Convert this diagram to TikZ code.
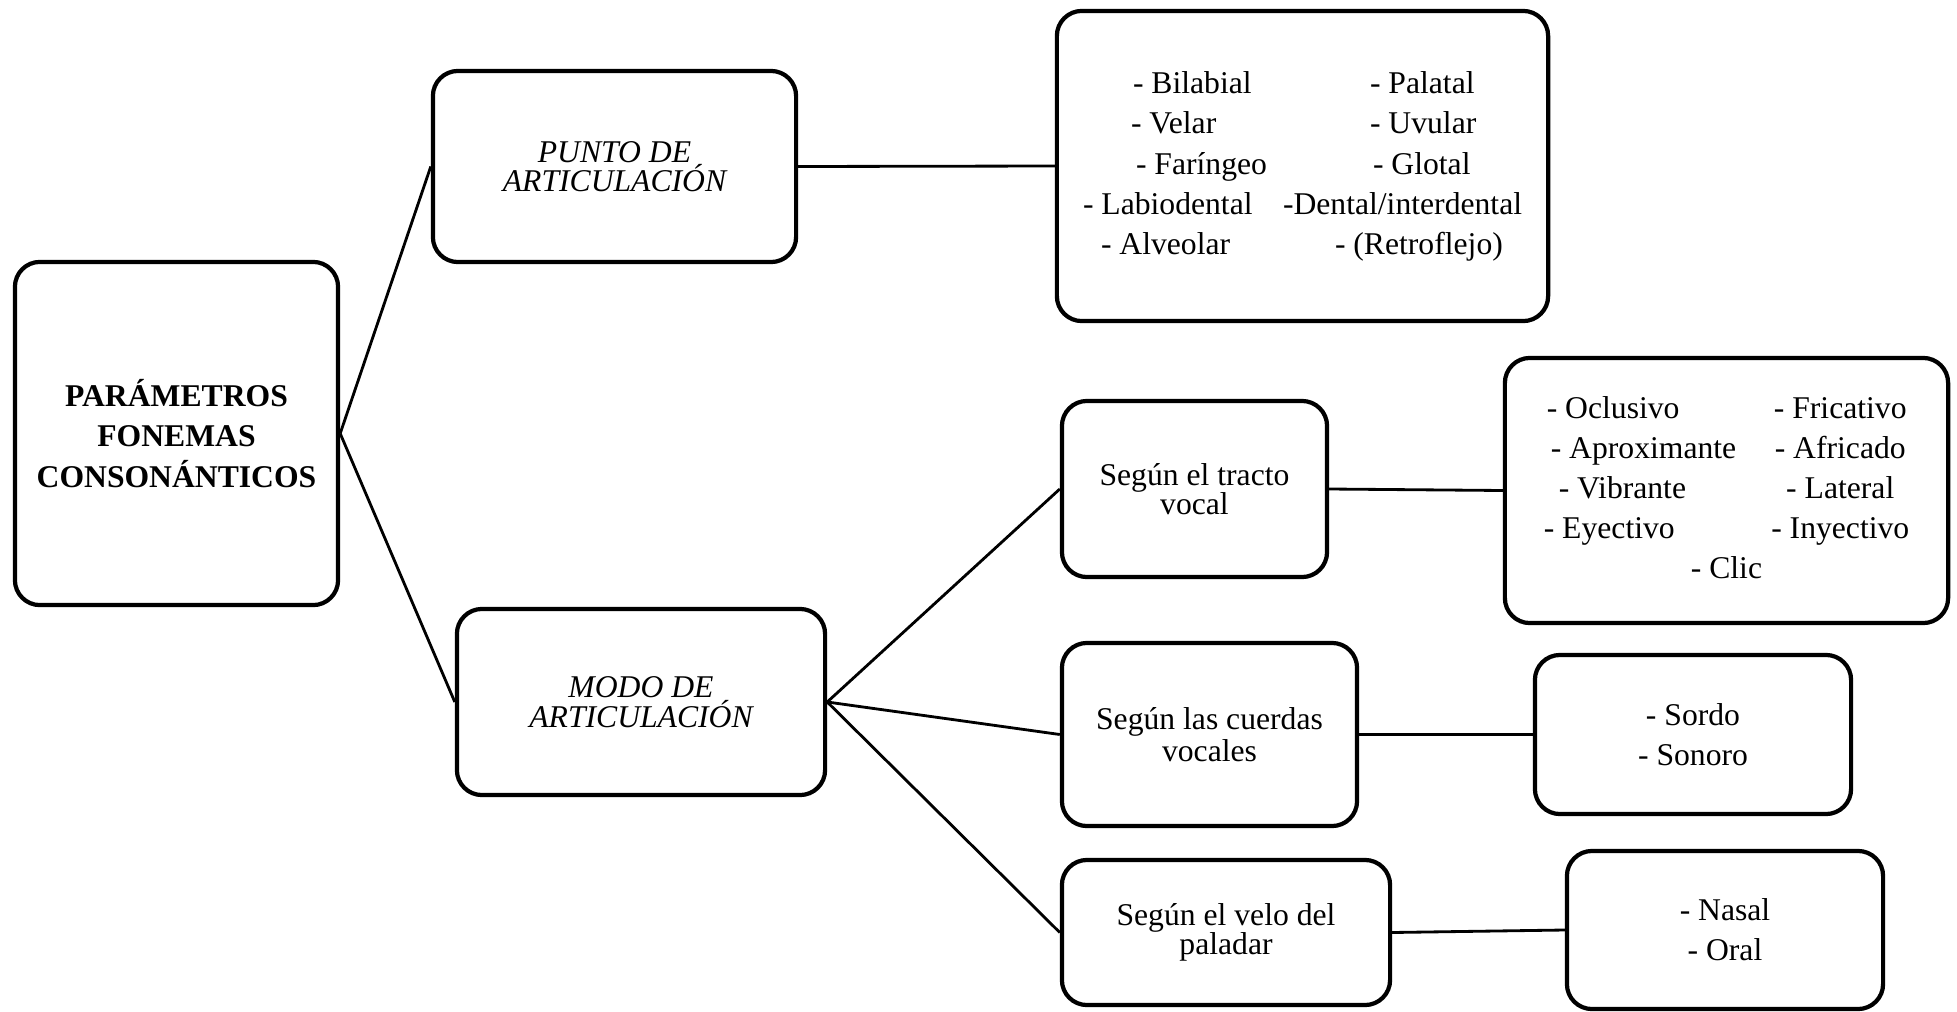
\documentclass[tikz,border=0pt]{standalone}
\usepackage{fontspec}
\setmainfont{Liberation Serif}
\usepackage{tikz}

\begin{document}
\begin{tikzpicture}[x=0.01cm,y=-0.01cm,
    box/.style={draw,line width=1.2pt,rounded corners=0.25cm,align=center,inner sep=0pt,font=\fontsize{9}{8.4}\selectfont},
    lst/.style={box,font=\fontsize{9}{11.4}\selectfont},
    con/.style={line width=0.8pt}]
          \useasboundingbox (0,0) rectangle (1957,1012);
          \node[lst,font=\fontsize{9}{11.4}\selectfont\bfseries,minimum width=3.23cm,minimum height=3.43cm] (P) at (176.5,433.5) {PARÁMETROS\\FONEMAS\\CONSONÁNTICOS};
          \node[box,font=\fontsize{9}{8.4}\selectfont\itshape,minimum width=3.63cm,minimum height=1.91cm] (PA) at (614.5,166.5) {PUNTO DE\\ARTICULACIÓN};
          \node[box,font=\fontsize{9}{8.6}\selectfont\itshape,minimum width=3.68cm,minimum height=1.86cm] (MA) at (641,702) {MODO DE\\ARTICULACIÓN};
          \node[lst,minimum width=4.91cm,minimum height=3.10cm] (PAL) at (1302.5,166) {%
            \begin{tabular}{@{}l@{\hspace{0.16cm}}l@{}}
              \hspace{0.50cm}- Bilabial & \hspace{0.87cm}- Palatal\\
              \hspace{0.48cm}- Velar & \hspace{0.87cm}- Uvular\\
              \hspace{0.53cm}- Faríngeo & \hspace{0.90cm}- Glotal\\
              - Labiodental & -Dental/interdental\\
              \hspace{0.18cm}- Alveolar & \hspace{0.52cm}- (Retroflejo)
            \end{tabular}};
          \node[box,minimum width=2.65cm,minimum height=1.76cm] (TV) at (1194.5,489) {Según el tracto\\vocal};
          \node[lst,minimum width=4.43cm,minimum height=2.65cm] (TVL) at (1726.5,490.5) {%
            \begin{tabular}{@{}l@{\hspace{0.35cm}}c@{}}
              \hspace{0.03cm}- Oclusivo & - Fricativo\\
              \hspace{0.07cm}- Aproximante & - Africado\\
              \hspace{0.15cm}- Vibrante & - Lateral\\
              - Eyectivo & - Inyectivo\\
              \multicolumn{2}{c}{- Clic}
            \end{tabular}};
          \node[box,font=\fontsize{9}{9.2}\selectfont,minimum width=2.95cm,minimum height=1.83cm] (CV) at (1209.5,734.5) {Según las cuerdas\\vocales};
          \node[lst,minimum width=3.16cm,minimum height=1.59cm] (CVL) at (1693,734.5) {- Sordo\\- Sonoro};
          \node[box,minimum width=3.28cm,minimum height=1.45cm] (VP) at (1226,932.5) {Según el velo del\\paladar};
          \node[lst,minimum width=3.16cm,minimum height=1.58cm] (VPL) at (1725,930) {- Nasal\\- Oral};
          \draw [con] (P.east) -- (PA.west);
          \draw [con] (P.east) -- (MA.west);
          \draw [con] (PA.east) -- (PAL.west);
          \draw [con] (MA.east) -- (TV.west);
          \draw [con] (MA.east) -- (CV.west);
          \draw [con] (MA.east) -- (VP.west);
          \draw [con] (TV.east) -- (TVL.west);
          \draw [con] (CV.east) -- (CVL.west);
          \draw [con] (VP.east) -- (VPL.west);
        \end{tikzpicture}
\end{document}
